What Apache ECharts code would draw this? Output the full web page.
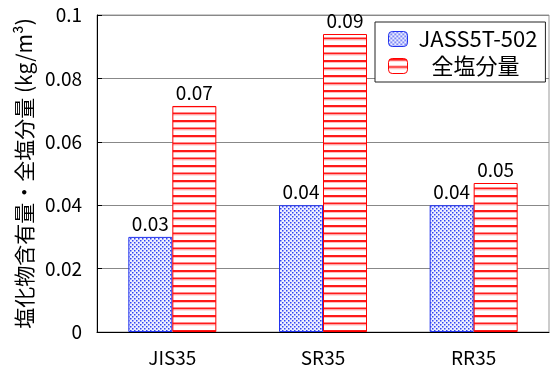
<!DOCTYPE html>
<html>
<head>
<meta charset="utf-8">
<script src="https://cdn.jsdelivr.net/npm/echarts@6/dist/echarts.min.js"></script>
<style>
  html, body { margin: 0; padding: 0; background: #fff; }
  #chart { width: 555px; height: 371px; }
</style>
</head>
<body>
<div id="chart"></div>
<script>
// Specimens and measured chloride contents (kg/m3)
const categories = ['JIS35', 'SR35', 'RR35'];
const seriesNames = ['JASS5T-502', '全塩分量'];
const jassValues = [0.030, 0.040, 0.040];
const totalSaltValues = [0.0713, 0.094, 0.047];
const yTicks = [0, 0.02, 0.04, 0.06, 0.08, 0.1];

const FONT = '"Noto Sans CJK JP", "Noto Sans", sans-serif';

// Dotted blue fill
function dotPattern() {
  const c = document.createElement('canvas');
  c.width = 4; c.height = 4;
  const g = c.getContext('2d');
  g.fillStyle = '#eef0ff';
  g.fillRect(0, 0, 4, 4);
  g.fillStyle = '#3344f2';
  g.fillRect(0, 0, 1.5, 1.5);
  g.fillRect(2, 2, 1.5, 1.5);
  return c;
}

// Horizontal red stripes on white
function stripePattern() {
  const c = document.createElement('canvas');
  c.width = 4; c.height = 15;
  const g = c.getContext('2d');
  g.fillStyle = '#ffffff';
  g.fillRect(0, 0, 4, 15);
  g.fillStyle = '#ff1a1a';
  g.fillRect(0, 0, 4, 2);
  g.fillRect(0, 7.5, 4, 2);
  g.fillStyle = '#ffc0c0';
  g.fillRect(0, 2, 4, 1);
  g.fillRect(0, 9.5, 4, 1);
  return c;
}

const blueFill = { image: dotPattern(), repeat: 'repeat' };
const redFill = { image: stripePattern(), repeat: 'repeat' };

const chart = echarts.init(document.getElementById('chart'), null, { renderer: 'canvas' });

const labelStyle = {
  show: true,
  position: 'top',
  distance: 4,
  color: '#000',
  fontFamily: FONT,
  fontSize: 19,
  formatter: p => p.value.toFixed(2)
};

chart.setOption({
  animation: false,
  backgroundColor: '#fff',
  grid: {
    left: 97, top: 15, right: 6, bottom: 39,
    show: true, borderColor: '#999', borderWidth: 1, backgroundColor: 'transparent'
  },
  legend: {
    orient: 'vertical',
    left: 375, top: 22,
    padding: [6, 8, 5, 13],
    itemGap: 5,
    itemWidth: 19,
    itemHeight: 15,
    backgroundColor: '#fff',
    borderColor: '#222',
    borderWidth: 1,
    textStyle: { fontFamily: FONT, fontSize: 22, color: '#000', padding: [0, 0, 0, 6] },
    data: [
      { name: seriesNames[0], itemStyle: { color: blueFill, borderColor: '#2233ee', borderWidth: 1 } },
      { name: seriesNames[1], itemStyle: { color: redFill, borderColor: '#ff0000', borderWidth: 1 },
        textStyle: { padding: [0, 0, 0, 19] } }
    ]
  },
  xAxis: {
    type: 'category',
    data: categories,
    axisLine: { lineStyle: { color: '#000', width: 1 } },
    axisTick: { inside: true, length: 6, lineStyle: { color: '#000' } },
    axisLabel: { color: '#000', fontFamily: FONT, fontSize: 19, margin: 16 }
  },
  yAxis: {
    type: 'value',
    min: yTicks[0],
    max: yTicks[yTicks.length - 1],
    interval: 0.02,
    name: '塩化物含有量・全塩分量 (kg/m³)',
    nameLocation: 'middle',
    nameGap: 62,
    nameRotate: 90,
    nameTextStyle: { color: '#000', fontFamily: FONT, fontSize: 21 },
    axisLine: { show: true, lineStyle: { color: '#000', width: 1 } },
    axisTick: { show: true, inside: true, length: 5, lineStyle: { color: '#000' } },
    axisLabel: { color: '#000', fontFamily: FONT, fontSize: 19, margin: 15 },
    splitLine: { show: true, lineStyle: { color: '#888', width: 1 } }
  },
  series: [
    {
      name: seriesNames[0],
      type: 'bar',
      data: jassValues,
      barWidth: 44,
      barGap: '0%',
      itemStyle: { color: blueFill, borderColor: '#2233ee', borderWidth: 1 },
      label: labelStyle
    },
    {
      name: seriesNames[1],
      type: 'bar',
      data: totalSaltValues,
      barWidth: 44,
      barGap: '0%',
      itemStyle: { color: redFill, borderColor: '#ff0000', borderWidth: 1 },
      label: labelStyle
    }
  ]
});
</script>
</body>
</html>
